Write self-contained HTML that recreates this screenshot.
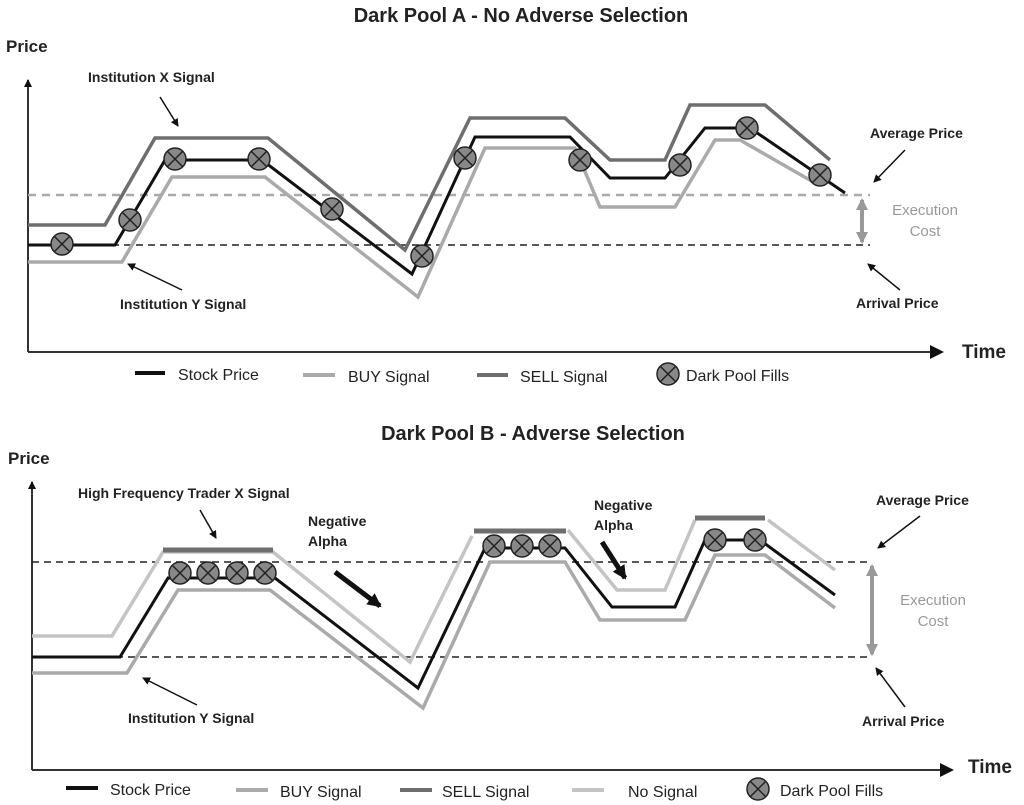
<!DOCTYPE html>
<html><head><meta charset="utf-8"><style>
html,body{margin:0;padding:0;background:#fff;}
svg{display:block;font-family:"Liberation Sans",sans-serif;}
</style></head><body>
<svg width="1024" height="805" viewBox="0 0 1024 805">
<defs>
<marker id="ah" markerWidth="8" markerHeight="8" refX="7" refY="4" orient="auto" markerUnits="userSpaceOnUse"><path d="M0,0 L8,4 L0,8 z" fill="#111"/></marker>
<marker id="ahb" markerWidth="14" markerHeight="14" refX="12" refY="7" orient="auto" markerUnits="userSpaceOnUse"><path d="M0,0 L14,7 L0,14 z" fill="#111"/></marker>
<marker id="ahg" markerWidth="12" markerHeight="12" refX="10" refY="6" orient="auto" markerUnits="userSpaceOnUse"><path d="M0,0 L12,6 L0,12 z" fill="#999"/></marker>
<g id="fill"><circle r="11" fill="#888" stroke="#222" stroke-width="1.5"/><path d="M-7.5,-7.5 L7.5,7.5 M-7.5,7.5 L7.5,-7.5" stroke="#222" stroke-width="1.5"/></g>
</defs>

<!-- Top chart -->
<text x="521" y="22" text-anchor="middle" font-size="20" font-weight="bold" fill="#222">Dark Pool A - No Adverse Selection</text>
<text x="6" y="52" font-size="17" font-weight="bold" fill="#222">Price</text>
<line x1="28" y1="352" x2="28" y2="80" stroke="#333" stroke-width="2" marker-end="url(#ah)"/>
<line x1="28" y1="352" x2="942" y2="352" stroke="#333" stroke-width="2" marker-end="url(#ahb)"/>
<text x="962" y="358" font-size="19" font-weight="bold" fill="#222">Time</text>
<line x1="28" y1="195" x2="870" y2="195" stroke="#aaa" stroke-width="2.5" stroke-dasharray="8,6"/>
<line x1="28" y1="245" x2="870" y2="245" stroke="#222" stroke-width="1.5" stroke-dasharray="7,5"/>
<polyline fill="none" stroke="#6e6e6e" stroke-width="3.5" points="28,225 105,225 155,138 268,138 405,250 470,118 565,118 610,160 665,160 690,105 765,105 830,160"/>
<polyline fill="none" stroke="#aaa" stroke-width="3.5" points="28,262 122,262 172,177 265,177 418,297 485,148 575,148 600,207 675,207 715,140 740,140 815,183"/>
<polyline fill="none" stroke="#111" stroke-width="3" points="28,245 115,245 165,160 262,160 412,274 475,137 570,137 610,178 665,178 705,128 750,128 845,193"/>
<use href="#fill" x="62" y="244"/><use href="#fill" x="130" y="220"/><use href="#fill" x="175" y="159"/><use href="#fill" x="259" y="159"/><use href="#fill" x="332" y="209"/><use href="#fill" x="422" y="256"/><use href="#fill" x="465" y="158"/><use href="#fill" x="580" y="160"/><use href="#fill" x="680" y="165"/><use href="#fill" x="747" y="128"/><use href="#fill" x="820" y="175"/>
<text x="88" y="82" font-size="14" font-weight="bold" fill="#222">Institution X Signal</text>
<line x1="160" y1="97" x2="178" y2="126" stroke="#111" stroke-width="1.5" marker-end="url(#ah)"/>
<text x="120" y="309" font-size="14" font-weight="bold" fill="#222">Institution Y Signal</text>
<line x1="182" y1="290" x2="128" y2="264" stroke="#111" stroke-width="1.5" marker-end="url(#ah)"/>
<text x="870" y="138" font-size="14" font-weight="bold" fill="#222">Average Price</text>
<line x1="905" y1="150" x2="874" y2="182" stroke="#111" stroke-width="1.5" marker-end="url(#ah)"/>
<text x="856" y="308" font-size="14" font-weight="bold" fill="#222">Arrival Price</text>
<line x1="900" y1="290" x2="868" y2="264" stroke="#111" stroke-width="1.5" marker-end="url(#ah)"/>
<line x1="862" y1="220" x2="862" y2="200" stroke="#999" stroke-width="4" marker-end="url(#ahg)"/>
<line x1="862" y1="220" x2="862" y2="242" stroke="#999" stroke-width="4" marker-end="url(#ahg)"/>
<text x="925" y="215" text-anchor="middle" font-size="15" fill="#999">Execution</text>
<text x="925" y="236" text-anchor="middle" font-size="15" fill="#999">Cost</text>
<line x1="135" y1="373" x2="165" y2="373" stroke="#111" stroke-width="4"/><text x="178" y="380" font-size="16" fill="#222">Stock Price</text>
<line x1="303" y1="375" x2="335" y2="375" stroke="#aaa" stroke-width="4"/><text x="348" y="382" font-size="16" fill="#222">BUY Signal</text>
<line x1="477" y1="375" x2="508" y2="375" stroke="#6e6e6e" stroke-width="4"/><text x="520" y="382" font-size="16" fill="#222">SELL Signal</text>
<use href="#fill" x="668" y="374"/><text x="686" y="381" font-size="16" fill="#222">Dark Pool Fills</text>

<!-- Bottom chart -->
<text x="533" y="440" text-anchor="middle" font-size="20" font-weight="bold" fill="#222">Dark Pool B - Adverse Selection</text>
<text x="8" y="464" font-size="17" font-weight="bold" fill="#222">Price</text>
<line x1="32" y1="770" x2="32" y2="482" stroke="#333" stroke-width="2" marker-end="url(#ah)"/>
<line x1="32" y1="770" x2="952" y2="770" stroke="#333" stroke-width="2" marker-end="url(#ahb)"/>
<text x="968" y="773" font-size="19" font-weight="bold" fill="#222">Time</text>
<line x1="32" y1="562" x2="870" y2="562" stroke="#222" stroke-width="1.5" stroke-dasharray="7,5"/>
<line x1="32" y1="657" x2="870" y2="657" stroke="#222" stroke-width="1.5" stroke-dasharray="7,5"/>
<polyline fill="none" stroke="#c4c4c4" stroke-width="3.5" points="32,636 112,636 163,552 273,552 410,662 472,536"/>
<polyline fill="none" stroke="#c4c4c4" stroke-width="3.5" points="568,530 617,590 665,590 695,520"/>
<polyline fill="none" stroke="#c4c4c4" stroke-width="3.5" points="768,520 835,570"/>
<line x1="163" y1="550" x2="273" y2="550" stroke="#6e6e6e" stroke-width="5"/>
<line x1="474" y1="531" x2="566" y2="531" stroke="#6e6e6e" stroke-width="5"/>
<line x1="695" y1="518" x2="765" y2="518" stroke="#6e6e6e" stroke-width="5"/>
<polyline fill="none" stroke="#aaa" stroke-width="3.5" points="32,673 127,673 178,590 270,590 423,708 490,562 565,562 600,620 685,620 715,555 765,555 835,608"/>
<polyline fill="none" stroke="#111" stroke-width="3" points="32,657 120,657 168,578 275,578 418,688 485,548 565,548 612,607 675,607 705,540 760,540 835,595"/>
<use href="#fill" x="180" y="573"/><use href="#fill" x="208" y="573"/><use href="#fill" x="237" y="573"/><use href="#fill" x="265" y="573"/>
<use href="#fill" x="494" y="546"/><use href="#fill" x="522" y="546"/><use href="#fill" x="550" y="546"/>
<use href="#fill" x="715" y="540"/><use href="#fill" x="755" y="540"/>
<text x="78" y="498" font-size="14" font-weight="bold" fill="#222">High Frequency Trader X Signal</text>
<line x1="200" y1="510" x2="216" y2="538" stroke="#111" stroke-width="1.5" marker-end="url(#ah)"/>
<text x="308" y="526" font-size="14" font-weight="bold" fill="#222">Negative</text>
<text x="308" y="546" font-size="14" font-weight="bold" fill="#222">Alpha</text>
<line x1="335" y1="572" x2="380" y2="606" stroke="#111" stroke-width="5" marker-end="url(#ahb)"/>
<text x="594" y="510" font-size="14" font-weight="bold" fill="#222">Negative</text>
<text x="594" y="530" font-size="14" font-weight="bold" fill="#222">Alpha</text>
<line x1="602" y1="542" x2="625" y2="578" stroke="#111" stroke-width="5" marker-end="url(#ahb)"/>
<text x="876" y="505" font-size="14" font-weight="bold" fill="#222">Average Price</text>
<line x1="920" y1="516" x2="878" y2="548" stroke="#111" stroke-width="1.5" marker-end="url(#ah)"/>
<text x="862" y="726" font-size="14" font-weight="bold" fill="#222">Arrival Price</text>
<line x1="905" y1="707" x2="876" y2="668" stroke="#111" stroke-width="1.5" marker-end="url(#ah)"/>
<text x="128" y="723" font-size="14" font-weight="bold" fill="#222">Institution Y Signal</text>
<line x1="197" y1="705" x2="143" y2="678" stroke="#111" stroke-width="1.5" marker-end="url(#ah)"/>
<line x1="872" y1="610" x2="872" y2="566" stroke="#999" stroke-width="4" marker-end="url(#ahg)"/>
<line x1="872" y1="610" x2="872" y2="654" stroke="#999" stroke-width="4" marker-end="url(#ahg)"/>
<text x="933" y="605" text-anchor="middle" font-size="15" fill="#999">Execution</text>
<text x="933" y="626" text-anchor="middle" font-size="15" fill="#999">Cost</text>
<line x1="66" y1="788" x2="98" y2="788" stroke="#111" stroke-width="4"/><text x="110" y="795" font-size="16" fill="#222">Stock Price</text>
<line x1="236" y1="790" x2="268" y2="790" stroke="#aaa" stroke-width="4"/><text x="280" y="797" font-size="16" fill="#222">BUY Signal</text>
<line x1="400" y1="790" x2="432" y2="790" stroke="#6e6e6e" stroke-width="4"/><text x="442" y="797" font-size="16" fill="#222">SELL Signal</text>
<line x1="572" y1="790" x2="604" y2="790" stroke="#c4c4c4" stroke-width="4"/><text x="628" y="797" font-size="16" fill="#222">No Signal</text>
<use href="#fill" x="758" y="789"/><text x="780" y="796" font-size="16" fill="#222">Dark Pool Fills</text>
</svg>
</body></html>
